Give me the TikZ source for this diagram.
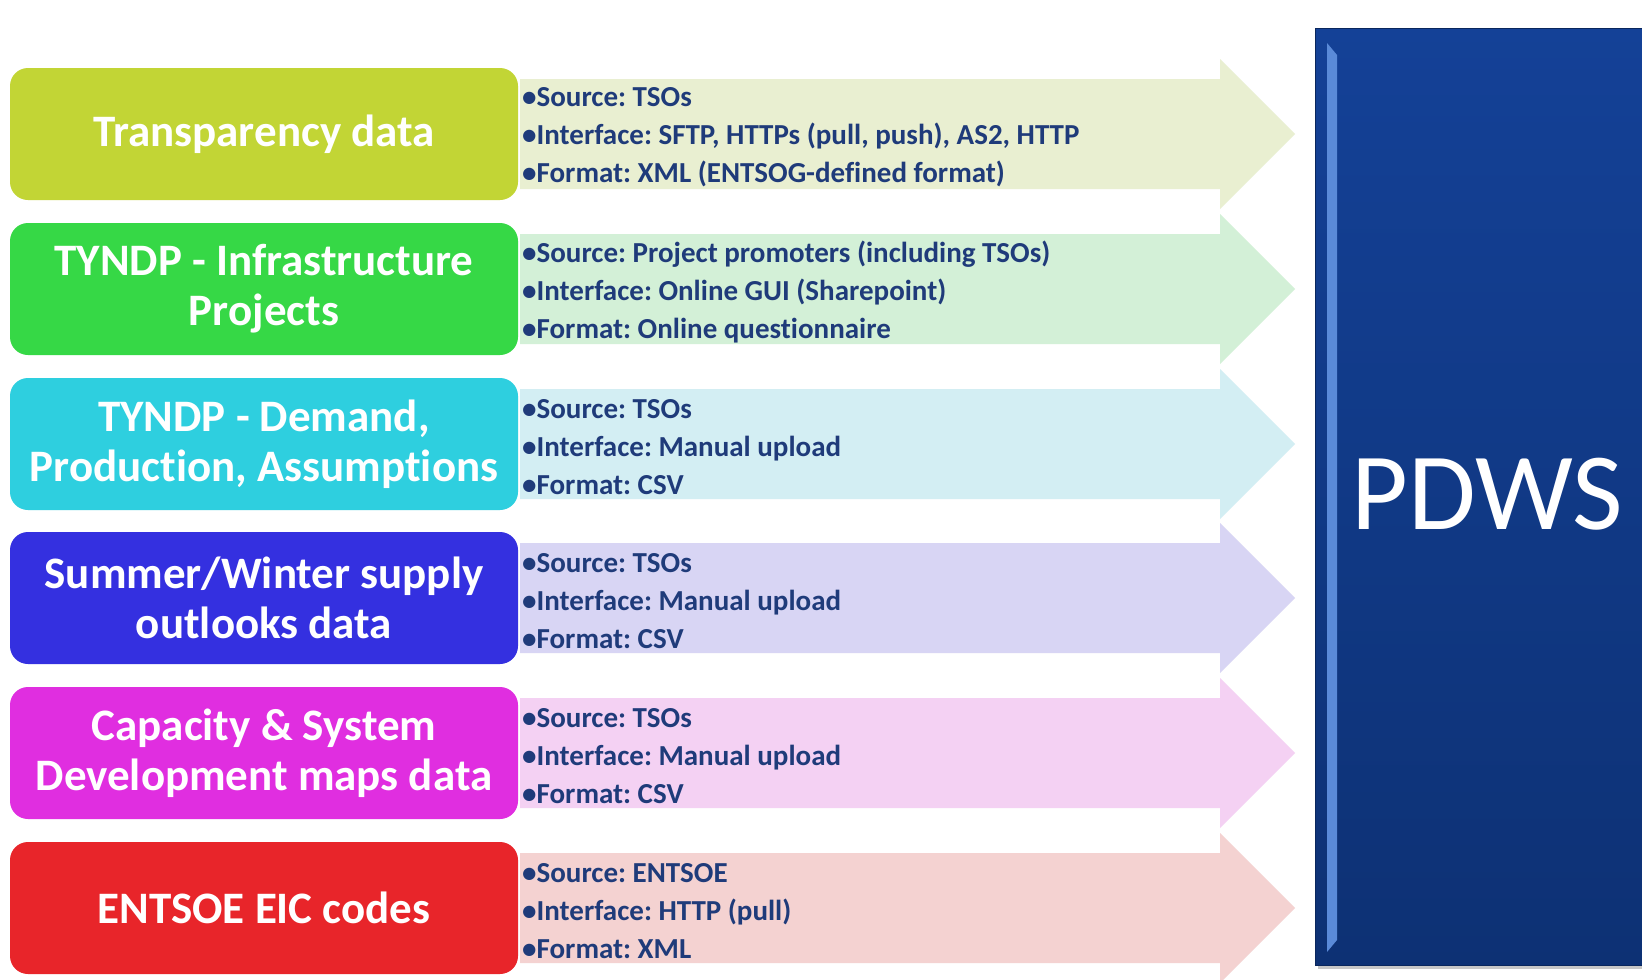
\documentclass[tikz,border=0pt]{standalone}
\usepackage{fontspec}
\setmainfont{Carlito}[Ligatures=NoCommon]
\usetikzlibrary{calc}

\definecolor{trlime}{HTML}{C2D535}
\definecolor{tygreen}{HTML}{36D846}
\definecolor{tycyan}{HTML}{2ECFDF}
\definecolor{swblue}{HTML}{3430E0}
\definecolor{cpmagenta}{HTML}{E02EE0}
\definecolor{enred}{HTML}{E8252A}
\definecolor{limefade}{HTML}{E9EFD1}
\definecolor{greenfade}{HTML}{D3F0D7}
\definecolor{cyanfade}{HTML}{D3EEF3}
\definecolor{bluefade}{HTML}{D8D5F4}
\definecolor{magfade}{HTML}{F4D1F3}
\definecolor{redfade}{HTML}{F4D2D1}
\definecolor{infoblue}{HTML}{1F3B7A}
\definecolor{pdwstop}{HTML}{144197}
\definecolor{pdwsbot}{HTML}{0D3174}
\definecolor{pdwsedge}{HTML}{5A8AD8}

\def\flowarrow[#1](#2){\fill[#1] (520, #2-55) -- (1220, #2-55) -- (1220, #2-75) -- (1295, #2) -- (1220, #2+75) -- (1220, #2+55) -- (520, #2+55) -- cycle;}

\tikzset{
	srcbox/.style={rounded corners=18pt, minimum width=508pt, minimum height=132pt, inner sep=0pt,
		text=white, align=center, font=\fontsize{45}{50}\selectfont\bfseries},
	infotext/.style={anchor=west, inner sep=0pt, align=left, text=infoblue,
		font=\fontsize{29}{38}\selectfont\bfseries\frenchspacing},
}

\begin{document}
\begin{tikzpicture}[x=1pt, y=-1pt]
		%%%%% START %%%%%
		\useasboundingbox[fill=white] (0, 0) rectangle (1642, 980);
		
		% arrows behind the source boxes
		\flowarrow[limefade](134)
		\flowarrow[greenfade](289)
		\flowarrow[cyanfade](444)
		\flowarrow[bluefade](598)
		\flowarrow[magfade](753)
		\flowarrow[redfade](908)
		
		% source boxes
		\node[srcbox, fill=trlime] (transp) at (264, 134) {Transparency data};
		\node[srcbox, fill=tygreen] (infra) at (264, 289) {TYNDP - Infrastructure\\Projects};
		\node[srcbox, fill=tycyan] (demand) at (264, 444) {TYNDP - Demand,\\Production, Assumptions};
		\node[srcbox, fill=swblue] (outlook) at (264, 598) {Summer/Winter supply\\outlooks data};
		\node[srcbox, fill=cpmagenta] (capmaps) at (264, 753) {Capacity \& System\\Development maps data};
		\node[srcbox, fill=enred] (eiccodes) at (264, 908) {ENTSOE EIC codes};
		
		% details on the arrows
		\node[infotext] (transpinfo) at (522, 137) {\textbullet Source: TSOs\\\textbullet Interface: SFTP, HTTPs (pull, push), AS2, HTTP\\\textbullet Format: XML (ENTSOG-defined format)};
		\node[infotext] (infrainfo) at (522, 292) {\textbullet Source: Project promoters (including TSOs)\\\textbullet Interface: Online GUI (Sharepoint)\\\textbullet Format: Online questionnaire};
		\node[infotext] (demandinfo) at (522, 447) {\textbullet Source: TSOs\\\textbullet Interface: Manual upload\\\textbullet Format: CSV};
		\node[infotext] (outlookinfo) at (522, 601) {\textbullet Source: TSOs\\\textbullet Interface: Manual upload\\\textbullet Format: CSV};
		\node[infotext] (capmapsinfo) at (522, 756) {\textbullet Source: TSOs\\\textbullet Interface: Manual upload\\\textbullet Format: CSV};
		\node[infotext] (eiccodesinfo) at (522, 911) {\textbullet Source: ENTSOE\\\textbullet Interface: HTTP (pull)\\\textbullet Format: XML};
		
		% target block
		\fill[black!22] (1318, 32) rectangle (1660, 969);
		\node[top color=pdwstop, bottom color=pdwsbot, draw=pdwsbot!80!black, line width=1pt,
			minimum width=345pt, minimum height=937pt, inner sep=0pt, text=white,
			font=\fontsize{110}{130}\selectfont] (pdws) at (1487.5, 496.5) {\raisebox{5pt}{PDWS}};
		\fill[pdwsedge] (1327, 43) -- (1337, 55) -- (1337, 940) -- (1327, 952) -- cycle;
		
		%%%%% END %%%%%
	\end{tikzpicture}
\end{document}
